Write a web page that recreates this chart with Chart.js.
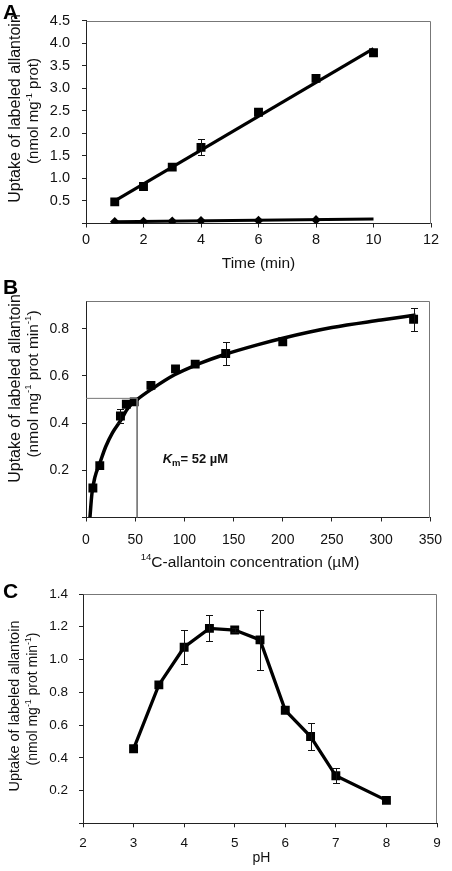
<!DOCTYPE html>
<html>
<head>
<meta charset="utf-8">
<script src="https://cdn.jsdelivr.net/npm/chart.js@4.4.0/dist/chart.umd.min.js"></script>
<style>
  body { margin: 0; background: #fff; width: 452px; height: 871px; overflow: hidden; position: relative; }
  canvas { position: absolute; left: 0; }
</style>
</head>
<body>
<canvas id="chartA" width="452" height="280" style="top:0"></canvas>
<canvas id="chartB" width="452" height="290" style="top:280px"></canvas>
<canvas id="chartC" width="452" height="301" style="top:570px"></canvas>
<script>
// ---- Panel A: uptake vs time ----
const timeMin = [1, 2, 3, 4, 6, 8, 10];
const uptakeA = [0.48, 0.82, 1.25, 1.69, 2.47, 3.22, 3.79];
const uptakeAErr = [0, 0, 0, 0.175, 0, 0, 0];
const controlTime = [1, 2, 3, 4, 6, 8];
const controlA = [0.04, 0.045, 0.05, 0.06, 0.065, 0.08];
const fitTime = [1, 10];
const fitA = [0.50, 3.88];
const fitControl = [0.04, 0.10];
const xTicksA = [0, 2, 4, 6, 8, 10, 12];
const yTicksA = [0, 0.5, 1, 1.5, 2, 2.5, 3, 3.5, 4, 4.5];

// ---- Panel B: concentration dependence ----
const concB = [7, 14, 35, 41, 49, 66, 91, 111, 142, 200, 333];
const uptakeB = [0.125, 0.22, 0.43, 0.48, 0.49, 0.56, 0.63, 0.65, 0.695, 0.745, 0.84];
const uptakeBErr = [0, 0, 0.03, 0, 0, 0, 0, 0, 0.05, 0, 0.05];
const curveConc = [4, 6, 9, 14, 20, 27, 35, 43, 52, 67, 90, 115, 140, 175, 200, 250, 300, 335];
const curveB = [0, 0.10, 0.17, 0.23, 0.30, 0.36, 0.41, 0.465, 0.50, 0.545, 0.605, 0.652, 0.69, 0.733, 0.76, 0.805, 0.837, 0.858];
const kmGuideX = [0, 52, 52];
const kmGuideY = [0.505, 0.505, 0];
const xTicksB = [0, 50, 100, 150, 200, 250, 300, 350];
const yTicksB = [0, 0.2, 0.4, 0.6, 0.8];

// ---- Panel C: pH dependence ----
const pH = [3, 3.5, 4, 4.5, 5, 5.5, 6, 6.5, 7, 8];
const uptakeC = [0.455, 0.845, 1.075, 1.19, 1.18, 1.12, 0.69, 0.53, 0.29, 0.14];
const uptakeCErr = [0, 0, 0.105, 0.08, 0.01, 0.185, 0, 0.085, 0.045, 0];
const xTicksC = [2, 3, 4, 5, 6, 7, 8, 9];
const yTicksC = [0, 0.2, 0.4, 0.6, 0.8, 1.0, 1.2, 1.4];

const FAMILY = '"Liberation Sans", Arial, sans-serif';
const pts = (xs, ys) => xs.map((x, i) => ({ x: x, y: ys[i] }));

function fontOf(s) {
  return (s.italic ? 'italic ' : '') + (s.bold ? 'bold ' : '') + s.size + 'px ' + FAMILY;
}
function drawRich(ctx, segs, x, y, align) {
  let w = 0;
  segs.forEach(s => { ctx.font = fontOf(s); w += ctx.measureText(s.t).width; });
  let cx = align === 'center' ? x - w / 2 : x;
  segs.forEach(s => {
    ctx.font = fontOf(s);
    ctx.fillText(s.t, cx, y + (s.dy || 0));
    cx += ctx.measureText(s.t).width;
  });
}

// top and right edges of the plot box
const frame = {
  id: 'frame',
  beforeDatasetsDraw(chart) {
    const { ctx, chartArea: a } = chart;
    const l = Math.round(a.left) + 0.5, r = Math.round(a.right) - 0.5;
    const t = Math.round(a.top) + 0.5, b = Math.round(a.bottom);
    ctx.save();
    ctx.strokeStyle = '#777';
    ctx.lineWidth = 1;
    ctx.beginPath();
    ctx.moveTo(l, t); ctx.lineTo(r, t); ctx.lineTo(r, b);
    ctx.stroke();
    ctx.restore();
  }
};

const errorBars = {
  id: 'errorBars',
  afterDatasetsDraw(chart) {
    const { ctx } = chart;
    const y = chart.scales.y;
    chart.data.datasets.forEach((ds, di) => {
      if (!ds.err) return;
      const meta = chart.getDatasetMeta(di);
      ctx.save();
      ctx.strokeStyle = '#111';
      ctx.lineWidth = 1;
      meta.data.forEach((pt, i) => {
        const e = ds.err[i];
        if (!e) return;
        const v = ds.data[i].y;
        const top = Math.round(y.getPixelForValue(v + e)) + 0.5;
        const bot = Math.round(y.getPixelForValue(v - e)) + 0.5;
        const x = Math.round(pt.x) + 0.5;
        ctx.beginPath();
        ctx.moveTo(x, top); ctx.lineTo(x, bot);
        ctx.moveTo(x - 3.5, top); ctx.lineTo(x + 3.5, top);
        ctx.moveTo(x - 3.5, bot); ctx.lineTo(x + 3.5, bot);
        ctx.stroke();
      });
      ctx.restore();
    });
  }
};

function decor(spec) {
  return {
    id: 'decor',
    afterDraw(chart) {
      const ctx = chart.ctx;
      ctx.save();
      ctx.fillStyle = '#000';
      ctx.textBaseline = 'alphabetic';
      drawRich(ctx, [{ t: spec.letter, size: 21, bold: true }], 3, spec.letterY, 'left');
      spec.yTitle.forEach(line => {
        ctx.save();
        ctx.translate(line.x, line.y);
        ctx.rotate(-Math.PI / 2);
        ctx.fillStyle = '#111';
        drawRich(ctx, line.segs, 0, 0, 'center');
        ctx.restore();
      });
      ctx.fillStyle = '#111';
      drawRich(ctx, spec.xTitle.segs, spec.xTitle.x, spec.xTitle.y, 'center');
      if (spec.note) {
        const px = chart.scales.x.getPixelForValue(spec.note.x);
        const py = chart.scales.y.getPixelForValue(spec.note.y);
        drawRich(ctx, spec.note.segs, px, py, 'left');
      }
      ctx.restore();
    }
  };
}

function axis(pos, min, max, ticks, fmt, size, pad, fit) {
  return {
    type: 'linear', position: pos, min: min, max: max,
    afterBuildTicks: s => { s.ticks = ticks.map(v => ({ value: v })); },
    afterFit: fit,
    grid: { display: true, drawOnChartArea: false, drawTicks: true, tickLength: 4, color: '#222', lineWidth: 1 },
    border: { display: true, color: '#222', width: 1 },
    ticks: { color: '#111', font: { family: FAMILY, size: size }, padding: pad, callback: fmt, maxRotation: 0, autoSkip: false }
  };
}

function makePanel(id, spec) {
  const c = document.getElementById(id);
  const W = c.width, H = c.height;
  const ar = spec.area;
  return new Chart(c, {
    type: 'scatter',
    data: { datasets: spec.datasets },
    options: {
      responsive: false, animation: false, devicePixelRatio: 1,
      layout: { padding: { top: ar.top, right: W - ar.right, left: 0, bottom: 0 } },
      plugins: { legend: { display: false }, tooltip: { enabled: false } },
      scales: {
        x: axis('bottom', spec.x[0], spec.x[1], spec.xTicks, v => String(v), spec.tickSize, spec.xPad,
          s => { s.height = H - ar.bottom; }),
        y: axis('left', spec.y[0], spec.y[1], spec.yTicks, v => (v === 0 ? '' : v.toFixed(1)), spec.tickSize, spec.yPad,
          s => { s.width = ar.left; })
      }
    },
    plugins: [frame, errorBars, decor(spec)]
  });
}

const sq = { pointStyle: 'rect', pointRadius: 6.3, pointBackgroundColor: '#000', pointBorderWidth: 0, showLine: false };
const lineOnly = { pointRadius: 0, showLine: true, fill: false };

const sup = (t, size) => ({ t: t, size: size * 0.62, dy: -size * 0.42 });

// Panel A
makePanel('chartA', {
  area: { left: 86, right: 431, top: 9, bottom: 223.5 },
  x: [0, 12], y: [0, 4.5], xTicks: xTicksA, yTicks: yTicksA,
  tickSize: 14.5, xPad: 4, yPad: 12,
  letter: 'A', letterY: 19,
  yTitle: [
    { x: 20, y: 108.5, segs: [{ t: 'Uptake of labeled allantoin', size: 16 }] },
    { x: 38, y: 111, segs: [{ t: '(nmol mg', size: 15 }, sup('-1', 15), { t: ' prot)', size: 15 }] }
  ],
  xTitle: { x: 258.5, y: 268, segs: [{ t: 'Time (min)', size: 15.5 }] },
  datasets: [
    Object.assign({ data: pts(fitTime, fitA), borderColor: '#000', borderWidth: 3.2 }, lineOnly),
    Object.assign({ data: pts(timeMin, uptakeA), err: uptakeAErr }, sq),
    Object.assign({ data: pts(fitTime, fitControl), borderColor: '#000', borderWidth: 3 }, lineOnly),
    { data: pts(controlTime, controlA), pointStyle: 'rectRot', pointRadius: 4.8, pointBackgroundColor: '#000', pointBorderWidth: 0, showLine: false }
  ]
});

// Panel B
makePanel('chartB', {
  area: { left: 86, right: 437, top: 9.3, bottom: 237.5 },
  x: [0, 350], y: [0, 0.916], xTicks: xTicksB, yTicks: yTicksB,
  tickSize: 14, xPad: 10, yPad: 13,
  letter: 'B', letterY: 14,
  yTitle: [
    { x: 20, y: 108.5, segs: [{ t: 'Uptake of labeled allantoin', size: 16 }] },
    { x: 38, y: 104, segs: [{ t: '(nmol mg', size: 15.5 }, sup('-1', 15.5), { t: ' prot min', size: 15.5 }, sup('-1', 15.5), { t: ')', size: 15.5 }] }
  ],
  xTitle: { x: 250, y: 287, segs: [sup('14', 15.5), { t: 'C-allantoin concentration (\u00b5M)', size: 15.5 }] },
  note: { x: 78, y: 0.231, segs: [{ t: 'K', size: 13, bold: true, italic: true }, { t: 'm', size: 9.5, bold: true, dy: 3 }, { t: '= 52 \u00b5M', size: 13, bold: true }] },
  datasets: [
    Object.assign({ data: pts(kmGuideX, kmGuideY), borderColor: '#777', borderWidth: 1 }, lineOnly),
    Object.assign({ data: pts(curveConc, curveB), borderColor: '#000', borderWidth: 3.5, cubicInterpolationMode: 'monotone' }, lineOnly),
    Object.assign({ data: pts(concB, uptakeB), err: uptakeBErr }, sq)
  ]
});

// Panel C
makePanel('chartC', {
  area: { left: 83, right: 437, top: 24, bottom: 253.3 },
  x: [2, 9], y: [0, 1.4], xTicks: xTicksC, yTicks: yTicksC,
  tickSize: 13.5, xPad: 8, yPad: 11,
  letter: 'C', letterY: 28,
  yTitle: [
    { x: 19, y: 136, segs: [{ t: 'Uptake of labeled allantoin', size: 14.5 }] },
    { x: 37, y: 129, segs: [{ t: '(nmol mg', size: 14 }, sup('-1', 14), { t: ' prot min', size: 14 }, sup('-1', 14), { t: ')', size: 14 }] }
  ],
  xTitle: { x: 261.5, y: 291.5, segs: [{ t: 'pH', size: 14 }] },
  datasets: [
    Object.assign({ data: pts(pH, uptakeC), err: uptakeCErr, borderColor: '#000', borderWidth: 3.3 }, sq, { showLine: true })
  ]
});
</script>
</body>
</html>
